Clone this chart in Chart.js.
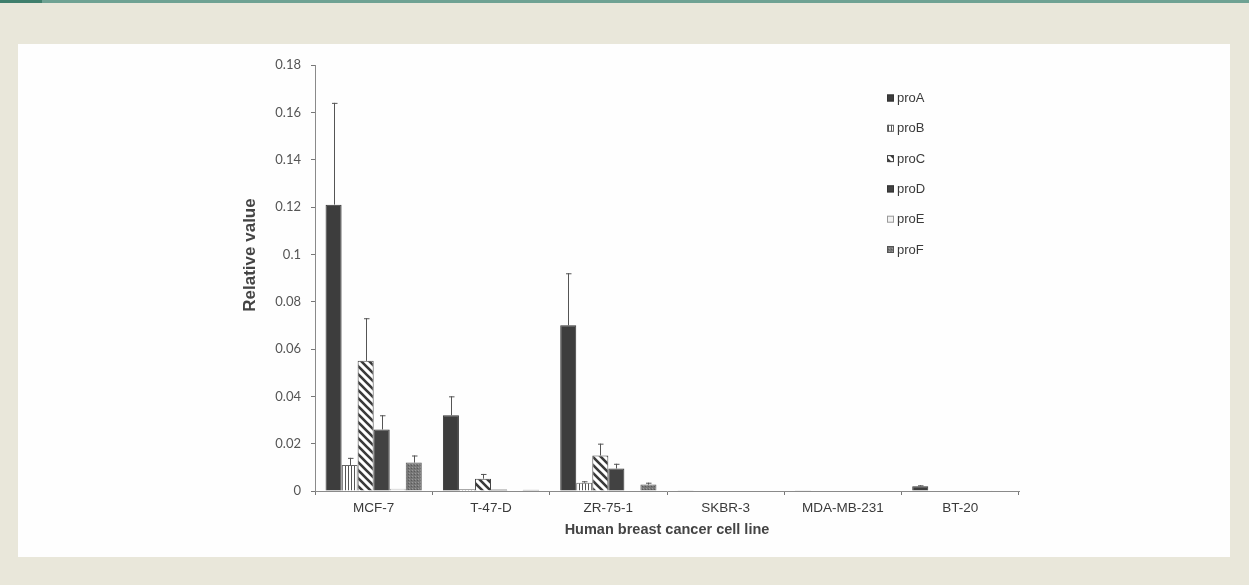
<!DOCTYPE html>
<html lang="en">
<head>
  <meta charset="UTF-8">
  <title>Relative value by cell line</title>
  <script src="https://cdn.jsdelivr.net/npm/chart.js"></script>
  <style>
    html, body { margin: 0; padding: 0; }
    body {
      width: 1249px; height: 585px; overflow: hidden; position: relative;
      background: #e9e7da;
    }
    #stripe { position: absolute; left: 0; top: 0; width: 1249px; height: 3px; background: #6fa293; }
    #stripe2 { position: absolute; left: 0; top: 0; width: 42px; height: 3px; background: #3f7f6c; }
    #panel { position: absolute; left: 18px; top: 44px; width: 1212px; height: 513px; background: #fefefe; }
    #chart { position: absolute; left: 0; top: 0; }
  </style>
</head>
<body>
  <div id="stripe"></div>
  <div id="stripe2"></div>
  <div id="panel"></div>
  <canvas id="chart" width="1249" height="585"></canvas>

  <script>
    const cellLines = ['MCF-7', 'T-47-D', 'ZR-75-1', 'SKBR-3', 'MDA-MB-231', 'BT-20'];
    const seriesNames = ['proA', 'proB', 'proC', 'proD', 'proE', 'proF'];

    const proA = [0.121, 0.032, 0.070, 0.0003, 0.0003, 0.002];
    const proB = [0.011, 0.0007, 0.0035, 0, 0, 0];
    const proC = [0.055, 0.0052, 0.015, 0, 0, 0];
    const proD = [0.026, 0.0006, 0.0095, 0, 0, 0];
    const proE = [0.001, 0.0001, 0, 0, 0, 0.0001];
    const proF = [0.012, 0.0005, 0.0027, 0, 0, 0];

    // upper error (standard deviation) for each series
    const errA = [0.043, 0.008, 0.022, 0, 0, 0.0004];
    const errB = [0.003, 0, 0.0006, 0, 0, 0];
    const errC = [0.018, 0.002, 0.005, 0, 0, 0];
    const errD = [0.006, 0, 0.002, 0, 0, 0];
    const errE = [0, 0, 0, 0, 0, 0];
    const errF = [0.003, 0, 0.0008, 0, 0, 0];

    const yTicks = [0, 0.02, 0.04, 0.06, 0.08, 0.1, 0.12, 0.14, 0.16, 0.18];
    const yTitle = 'Relative value';

    // fill patterns like the printed figure
    function makePattern(kind) {
      const c = document.createElement('canvas');
      const g = c.getContext('2d');
      if (kind === 'solid') {
        c.width = c.height = 4;
        g.fillStyle = '#3d3d3d'; g.fillRect(0, 0, 4, 4);
      } else if (kind === 'vert') {
        c.width = 3; c.height = 3;
        g.fillStyle = '#ffffff'; g.fillRect(0, 0, 3, 3);
        g.fillStyle = '#555555'; g.fillRect(0, 0, 1, 3);
      } else if (kind === 'diag') {
        c.width = c.height = 8;
        g.fillStyle = '#ffffff'; g.fillRect(0, 0, 8, 8);
        g.strokeStyle = '#3a3a3a'; g.lineWidth = 2.6;
        g.beginPath();
        g.moveTo(-2, -2); g.lineTo(10, 10);
        g.moveTo(-10, -2); g.lineTo(2, 10);
        g.moveTo(6, -2); g.lineTo(18, 10);
        g.stroke();
      } else if (kind === 'dark') {
        c.width = c.height = 4;
        g.fillStyle = '#424242'; g.fillRect(0, 0, 4, 4);
      } else if (kind === 'light') {
        c.width = c.height = 4;
        g.fillStyle = '#f2f2f2'; g.fillRect(0, 0, 4, 4);
      } else if (kind === 'dots') {
        c.width = c.height = 3;
        g.fillStyle = '#777777'; g.fillRect(0, 0, 3, 3);
        g.fillStyle = '#5a5a5a'; g.fillRect(0, 0, 1, 1);
        g.fillStyle = '#999999'; g.fillRect(1, 2, 1, 1);
      }
      return g.createPattern(c, 'repeat');
    }

    const ctx = document.getElementById('chart').getContext('2d');
    const fills = ['solid', 'vert', 'diag', 'dark', 'light', 'dots'].map(makePattern);
    const borders = ['#333333', '#666666', '#444444', '#333333', '#999999', '#555555'];
    const values = [proA, proB, proC, proD, proE, proF];
    const errors = [errA, errB, errC, errD, errE, errF];

    const datasets = seriesNames.map((name, i) => ({
      label: name,
      data: values[i],
      errors: errors[i],
      backgroundColor: fills[i],
      borderColor: borders[i],
      borderWidth: 1,
      categoryPercentage: 0.82,
      barPercentage: 1.0
    }));

    // upward error bars with a small cap
    const errorBars = {
      id: 'errorBars',
      afterDatasetsDraw(chart) {
        const g = chart.ctx;
        const y = chart.scales.y;
        g.save();
        g.strokeStyle = '#555555';
        g.lineWidth = 1;
        chart.data.datasets.forEach((ds, i) => {
          const meta = chart.getDatasetMeta(i);
          meta.data.forEach((bar, j) => {
            const e = ds.errors[j];
            if (!e) return;
            const top = y.getPixelForValue(ds.data[j] + e);
            const x = Math.round(bar.x) + 0.5;
            g.beginPath();
            g.moveTo(x, bar.y);
            g.lineTo(x, top);
            g.moveTo(x - 2.5, top + 0.5);
            g.lineTo(x + 3, top + 0.5);
            g.stroke();
          });
        });
        g.restore();
      }
    };

    // legend inside the plot area (top right) and the y title, a bit above centre
    const extras = {
      id: 'extras',
      afterDraw(chart) {
        const g = chart.ctx;
        g.save();
        g.font = '13px "Liberation Sans", Arial, sans-serif';
        g.textBaseline = 'middle';
        chart.data.datasets.forEach((ds, i) => {
          const cy = 98 + i * 30.3;
          g.fillStyle = ds.backgroundColor;
          g.fillRect(887, cy - 3.5, 7, 7);
          g.strokeStyle = ds.borderColor;
          g.lineWidth = 1;
          g.strokeRect(887.5, cy - 3, 6, 6);
          g.fillStyle = '#3a3a3a';
          g.fillText(ds.label, 897, cy + 0.5);
        });
        g.translate(250, 255);
        g.rotate(-Math.PI / 2);
        g.font = 'bold 17px "Liberation Sans", Arial, sans-serif';
        g.textAlign = 'center';
        g.fillStyle = '#444444';
        g.fillText(yTitle, 0, 0);
        g.restore();
      }
    };

    new Chart(ctx, {
      type: 'bar',
      data: { labels: cellLines, datasets: datasets },
      options: {
        responsive: false,
        animation: false,
        devicePixelRatio: 1,
        layout: { padding: { left: 236, right: 230, top: 65, bottom: 46 } },
        plugins: {
          legend: { display: false },
          tooltip: { enabled: false }
        },
        scales: {
          x: {
            grid: { display: true, drawOnChartArea: false, offset: true, tickLength: 4, color: '#777777' },
            border: { color: '#8a8a8a', width: 1 },
            ticks: {
              color: '#3a3a3a',
              padding: 5,
              maxRotation: 0,
              font: { family: '"Liberation Sans", Arial, sans-serif', size: 13.5 }
            },
            title: {
              display: true,
              text: 'Human breast cancer cell line',
              color: '#444444',
              padding: { top: 3, bottom: 0 },
              font: { family: '"Liberation Sans", Arial, sans-serif', size: 14.5, weight: 'bold' }
            },
            afterFit(scale) { scale.height = 48; }
          },
          y: {
            min: 0,
            max: 0.18,
            afterBuildTicks(scale) { scale.ticks = yTicks.map(v => ({ value: v })); },
            grid: { display: true, drawOnChartArea: false, tickLength: 4, color: '#777777' },
            border: { color: '#8a8a8a', width: 1 },
            ticks: {
              color: '#555555',
              padding: 10,
              font: { family: 'Lato, "Open Sans", sans-serif', size: 13 },
              callback: v => String(Math.round(v * 100) / 100)
            },
            title: { display: false },
            afterFit(scale) { scale.width = 79; }
          }
        }
      },
      plugins: [errorBars, extras]
    });
  </script>
</body>
</html>
